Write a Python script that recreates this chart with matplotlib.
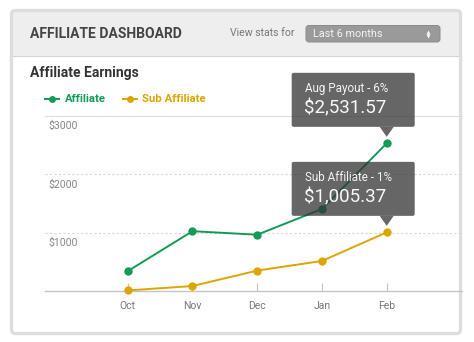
import matplotlib
matplotlib.use("Agg")
import matplotlib.pyplot as plt
from matplotlib.patches import FancyBboxPatch, Polygon, Rectangle

plt.rcParams["font.family"] = ["Roboto", "DejaVu Sans"]

MONTHS = ["Oct", "Nov", "Dec", "Jan", "Feb"]
AFFILIATE = [340, 1025, 965, 1405, 2531.57]
SUB_AFFILIATE = [10, 85, 350, 515, 1005.37]
Y_LABELS = [1000, 2000, 3000]
TOOLTIPS = [
    (AFFILIATE, "Aug Payout - 6%", "$2,531.57"),
    (SUB_AFFILIATE, "Sub Affiliate - 1%", "$1,005.37"),
]

GREEN = "#139a57"
GOLD = "#dca500"
W, H = 474, 342

fig = plt.figure(figsize=(W / 100, H / 100), dpi=100)

# фон панели в пиксельных координатах
bg = fig.add_axes([0, 0, 1, 1], zorder=0)
bg.set_xlim(0, W)
bg.set_ylim(H, 0)
bg.axis("off")

bg.add_patch(FancyBboxPatch((11.5, 10.5), 449, 323, boxstyle="round,pad=0,rounding_size=4",
                            fc="#eeeeee", ec="none"))
bg.add_patch(Rectangle((13, 55.5), 446, 277, fc="white", ec="none"))
bg.plot([13, 459], [55.5, 55.5], color="#d4d4d4", lw=0.8)
bg.add_patch(FancyBboxPatch((11.5, 10.5), 449, 323, boxstyle="round,pad=0,rounding_size=4",
                            fc="none", ec="#dddddd", lw=2.4, zorder=5))

bg.text(30, 34, "AFFILIATE DASHBOARD", fontsize=10, fontweight="bold", color="#444444", va="center")
bg.text(230, 33.5, "View stats for", fontsize=7.6, color="#777777", va="center")
bg.add_patch(FancyBboxPatch((306, 25.5), 134, 16.5, boxstyle="round,pad=0,rounding_size=3",
                            fc="#9a9a9a", ec="#8a8a8a", lw=0.7))
bg.text(313, 33.8, "Last 6 months", fontsize=7.8, color="#f4f4f4", va="center")
bg.plot(428, 31.5, marker="^", ms=2.8, color="white", mec="none")
bg.plot(428, 35.8, marker="v", ms=2.8, color="white", mec="none")

bg.text(30, 73.5, "Affiliate Earnings", fontsize=10, fontweight="bold", color="#333333", va="center")
for x0, color, label in [(45.5, GREEN, "Affiliate"), (123, GOLD, "Sub Affiliate")]:
    bg.plot([x0, x0 + 14], [99, 99], color=color, lw=1.4)
    bg.plot(x0 + 7, 99, marker="o", ms=5, color=color, mec="none")
    bg.text(x0 + 19, 99.3, label, fontsize=8.2, fontweight="bold", color=color, va="center")

# сам график
ax = fig.add_axes([45 / W, (H - 291) / H, (462 - 45) / W, 175 / H], zorder=1)
ax.patch.set_visible(False)
step = 64.75
ax.set_xlim((45 - 127.7) / step, (462 - 127.7) / step)
ax.set_ylim(0, 3000)
for s in ax.spines.values():
    s.set_visible(False)

ax.axhline(3000, color="#dddddd", lw=0.8, clip_on=False)
ax.axhline(2000, color="#d6d6d6", lw=0.8, ls=(0, (2, 2)))
ax.axhline(1000, color="#d6d6d6", lw=0.8, ls=(0, (2, 2)))
ax.axhline(0, color="#c4c4c4", lw=1.0, clip_on=False)

ax.set_xticks(range(len(MONTHS)), MONTHS)
ax.tick_params(axis="x", direction="in", length=6, width=0.8, color="#c4c4c4",
               pad=7.5, labelsize=7.5, labelcolor="#777777")
ax.set_yticks([])
for v in Y_LABELS:
    ax.annotate(f"${v}", xy=(0, v), xycoords=("axes fraction", "data"), xytext=(3, -5),
                textcoords="offset pixels", va="top", ha="left", fontsize=7.6, color="#888888")

x = range(len(MONTHS))
ax.plot(x, SUB_AFFILIATE, color=GOLD, lw=1.4, marker="o", ms=6, mec="none", clip_on=False, zorder=3)
ax.plot(x, AFFILIATE, color=GREEN, lw=1.4, marker="o", ms=6, mec="none", clip_on=False, zorder=3)

# подсказки поверх линий
top = fig.add_axes([0, 0, 1, 1], zorder=2)
top.set_xlim(0, W)
top.set_ylim(H, 0)
top.axis("off")
for series, label, value in TOOLTIPS:
    px, py = ax.transData.transform((len(series) - 1, series[-1]))
    py = H - py
    tip = py - 6.5
    bottom = tip - 10
    left = px - 95
    box_top = bottom - 54
    top.add_patch(FancyBboxPatch((left, box_top), 123, 54, boxstyle="round,pad=0,rounding_size=2",
                                 fc="#333333", ec="none", alpha=0.75))
    top.add_patch(Polygon([(px - 7, bottom), (px + 7, bottom), (px, tip)], closed=True,
                          fc="#333333", ec="none", alpha=0.75))
    top.text(left + 13, box_top + 16, label, fontsize=8.4, color="#f5f5f5", va="center")
    top.text(left + 12.5, box_top + 35.5, value, fontsize=13.5, color="#f8f8f8", va="center")

fig.savefig("out.png", dpi=100)
